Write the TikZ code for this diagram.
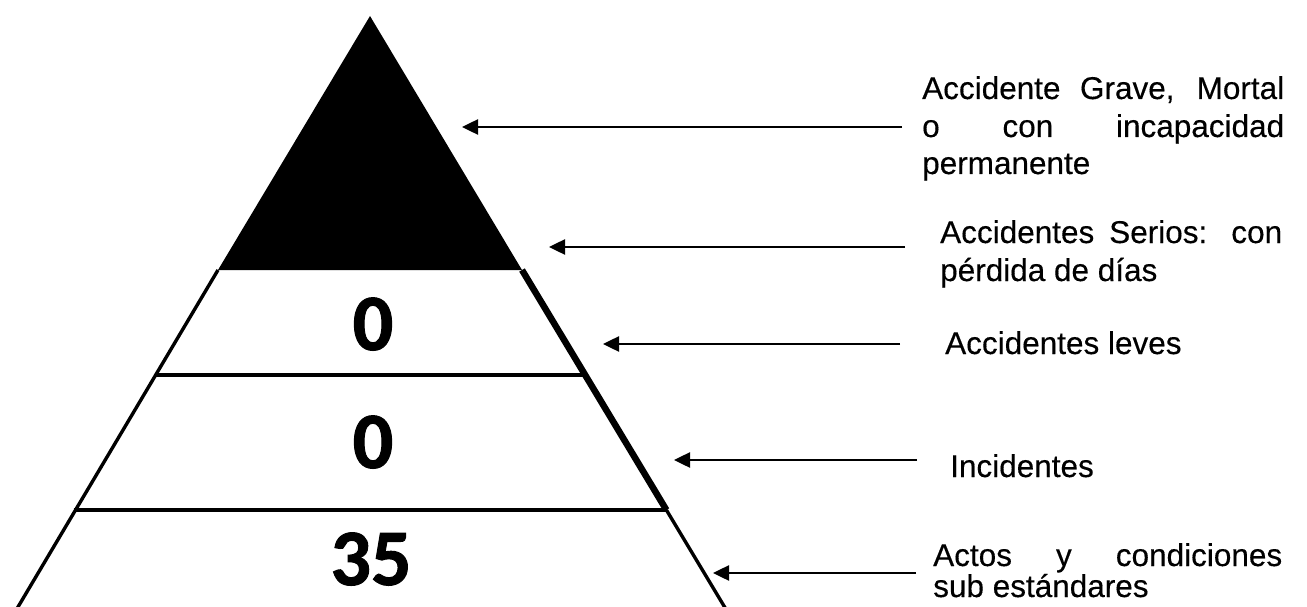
\documentclass[tikz,border=0pt]{standalone}
\usepackage{fontspec}
\setmainfont{Liberation Sans}[FakeBold=0.35]
\newfontfamily\numfont{Carlito}[FakeBold=1.2]
\usetikzlibrary{arrows.meta}
\begin{document}
\begin{tikzpicture}[x=1pt,y=-1pt,
  edge/.style={line width=3.4pt,line join=miter},
  thickedge/.style={line width=6.5pt},
  band/.style={line width=4.2pt},
  lab/.style={anchor=base west,inner sep=0pt,font=\fontsize{31.5}{37}\selectfont},
  num/.style={anchor=base,inner sep=0pt,font=\numfont\bfseries\fontsize{80}{80}\selectfont},
  pointer/.style={line width=2.5pt,-{Triangle[length=16pt,width=15pt]}}]
\useasboundingbox (0,0) rectangle (1307,607);
% pyramid
\coordinate (apex) at (370,16);
\coordinate (bl1) at (218,270);
\coordinate (br1) at (522,270);
\coordinate (bl2) at (154.6,375);
\coordinate (br2) at (585.4,375);
\coordinate (bl3) at (73.6,510);
\coordinate (br3) at (666.4,510);
\coordinate (bl4) at (15,612);
\coordinate (br4) at (727.6,612);
\fill[black] (apex) -- (br1) -- (bl1) -- cycle;
\draw[edge] (bl1) -- (bl4);
\draw[thickedge] (br1) -- (br3);
\draw[edge] (br3) -- (br4);
\draw[band] (bl2) -- (br2);
\draw[band] (bl3) -- (br3);
% numbers
\node[num] (n1) at (373,350) {0};
\node[num] (n2) at (373,468) {0};
\node[num] (n3) at (371,585) {35};
% labels
\node[lab] (l1a) at (922,99) {\makebox[362pt][s]{Accidente Grave, Mortal}};
\node[lab] (l1b) at (922,137) {\makebox[362pt][s]{o con incapacidad}};
\node[lab] (l1c) at (922,174) {permanente};
\node[lab] (l2a) at (940,243) {\makebox[342pt][s]{Accidentes Serios: con}};
\node[lab] (l2b) at (940,281) {pérdida de días};
\node[lab] (l3) at (945,354) {Accidentes leves};
\node[lab] (l4) at (950,477) {Incidentes};
\node[lab] (l5a) at (933,566) {\makebox[349pt][s]{Actos y condiciones}};
\node[lab] (l5b) at (933,597) {sub estándares};
% arrows
\coordinate (t1) at (902,127); \coordinate (h1) at (462,127);
\coordinate (t2) at (905,247); \coordinate (h2) at (549,247);
\coordinate (t3) at (900,344); \coordinate (h3) at (603,344);
\coordinate (t4) at (917,460); \coordinate (h4) at (674,460);
\coordinate (t5) at (916,573); \coordinate (h5) at (713,573);
\draw[pointer] (t1) -- (h1);
\draw[pointer] (t2) -- (h2);
\draw[pointer] (t3) -- (h3);
\draw[pointer] (t4) -- (h4);
\draw[pointer] (t5) -- (h5);
\end{tikzpicture}
\end{document}
